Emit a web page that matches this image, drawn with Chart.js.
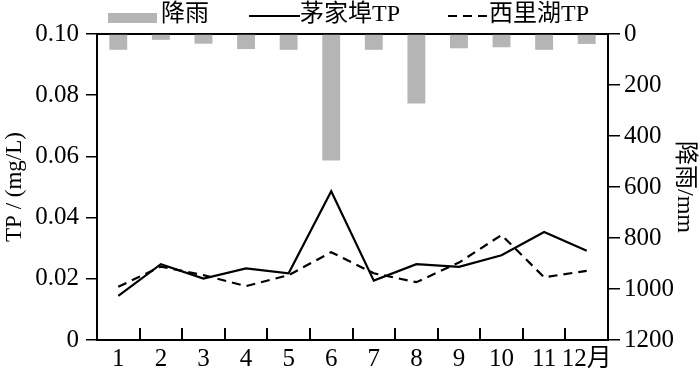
<!DOCTYPE html>
<html>
<head>
<meta charset="utf-8">
<script src="https://cdn.jsdelivr.net/npm/chart.js@4"></script>
<style>body{margin:0;background:#fff}</style>
</head>
<body>
<canvas id="rainChart" width="700" height="377"></canvas>
<script>
const months = ['1', '2', '3', '4', '5', '6', '7', '8', '9', '10', '11', '12月'];
const rain = [62, 23, 38, 59, 62, 496, 62, 273, 56, 52, 62, 39];
const maojiabuTP = [0.0144, 0.0248, 0.0201, 0.0234, 0.0218, 0.0486, 0.0194, 0.0248, 0.0239, 0.0277, 0.0353, 0.0292];
const xilihuTP = [0.0174, 0.0240, 0.0212, 0.0176, 0.0212, 0.0287, 0.0218, 0.0189, 0.0253, 0.0343, 0.0205, 0.0226];

const FONT = '"Liberation Serif", "Noto Sans CJK SC", serif';
Chart.defaults.font.family = FONT;
Chart.defaults.font.size = 25;
Chart.defaults.color = '#000';

// inner x ticks + hand-drawn legend (spacing follows the original figure)
const extras = {
    id: 'extras',
    afterDraw(chart) {
        const c = chart.ctx;
        const area = chart.chartArea;
        const step = (area.right - area.left) / months.length;

        // small ticks pointing up into the plot, at the month boundaries
        c.save();
        c.setLineDash([]);
        c.strokeStyle = '#000';
        c.lineWidth = 2;
        c.beginPath();
        for (let i = 1; i < months.length; i++) {
            const px = Math.round(area.left + i * step);
            c.moveTo(px, area.bottom);
            c.lineTo(px, area.bottom - 12);
        }
        c.stroke();
        c.restore();

        const ds = chart.data.datasets;
        const spots = [
            { x0: 108, x1: 157, tx: 161 },
            { x0: 249, x1: 300, tx: 300 },
            { x0: 448, x1: 489, tx: 489 }
        ];
        c.save();
        c.font = '24px ' + FONT;
        c.textBaseline = 'middle';
        ds.forEach((d, i) => {
            const s = spots[i];
            if (d.type === 'bar') {
                c.fillStyle = d.backgroundColor;
                c.fillRect(s.x0, 13, s.x1 - s.x0, 10);
            } else {
                c.strokeStyle = d.borderColor;
                c.lineWidth = d.borderWidth;
                c.setLineDash(d.borderDash || []);
                c.beginPath();
                c.moveTo(s.x0, 16);
                c.lineTo(s.x1, 16);
                c.stroke();
            }
            c.fillStyle = '#000';
            c.fillText(d.label, s.tx, 15);
        });
        c.restore();
    }
};

new Chart(document.getElementById('rainChart').getContext('2d'), {
    type: 'bar',
    data: {
        labels: months,
        datasets: [
            {
                type: 'bar',
                label: '降雨',
                data: rain,
                yAxisID: 'y1',
                backgroundColor: '#b5b5b5',
                barPercentage: 0.42,
                categoryPercentage: 1,
                order: 2
            },
            {
                type: 'line',
                label: '茅家埠TP',
                data: maojiabuTP,
                yAxisID: 'y',
                borderColor: '#000',
                borderWidth: 2.2,
                pointRadius: 0,
                tension: 0,
                order: 1
            },
            {
                type: 'line',
                label: '西里湖TP',
                data: xilihuTP,
                yAxisID: 'y',
                borderColor: '#000',
                borderWidth: 2.2,
                borderDash: [9, 6],
                pointRadius: 0,
                tension: 0,
                order: 1
            }
        ]
    },
    options: {
        responsive: false,
        animation: false,
        layout: { padding: { top: 34, left: 0, right: 0, bottom: 0 } },
        plugins: { legend: { display: false }, tooltip: { enabled: false } },
        scales: {
            x: {
                position: 'bottom',
                grid: { drawOnChartArea: false, drawTicks: false },
                border: { color: '#000', width: 2 },
                ticks: { padding: 4, maxRotation: 0, autoSkip: false },
                afterFit(s) { s.height = 37; }
            },
            x2: {
                position: 'top',
                grid: { drawOnChartArea: false, drawTicks: false },
                border: { color: '#000', width: 2 },
                ticks: { display: false },
                afterFit(s) { s.height = 0; }
            },
            y: {
                position: 'left',
                min: 0,
                max: 0.1,
                ticks: {
                    stepSize: 0.02,
                    padding: 7,
                    callback: v => v === 0 ? '0' : v.toFixed(2)
                },
                grid: { drawOnChartArea: false, tickLength: 11, color: '#000', lineWidth: 1.5 },
                border: { color: '#000', width: 2 },
                title: { display: true, text: 'TP / (mg/L)', font: { size: 23 }, padding: { top: 1, bottom: 0 } },
                afterFit(s) { s.width = 97; }
            },
            y1: {
                position: 'right',
                reverse: true,
                min: 0,
                max: 1200,
                ticks: { stepSize: 200, padding: 4, callback: v => String(v) },
                grid: { drawOnChartArea: false, tickLength: 12, color: '#000', lineWidth: 1.5 },
                border: { color: '#000', width: 2 },
                title: { display: true, text: '降雨/mm', font: { size: 24 }, padding: { top: 1, bottom: 0 } },
                afterFit(s) { s.width = 92; }
            }
        }
    },
    plugins: [extras]
});
</script>
</body>
</html>
